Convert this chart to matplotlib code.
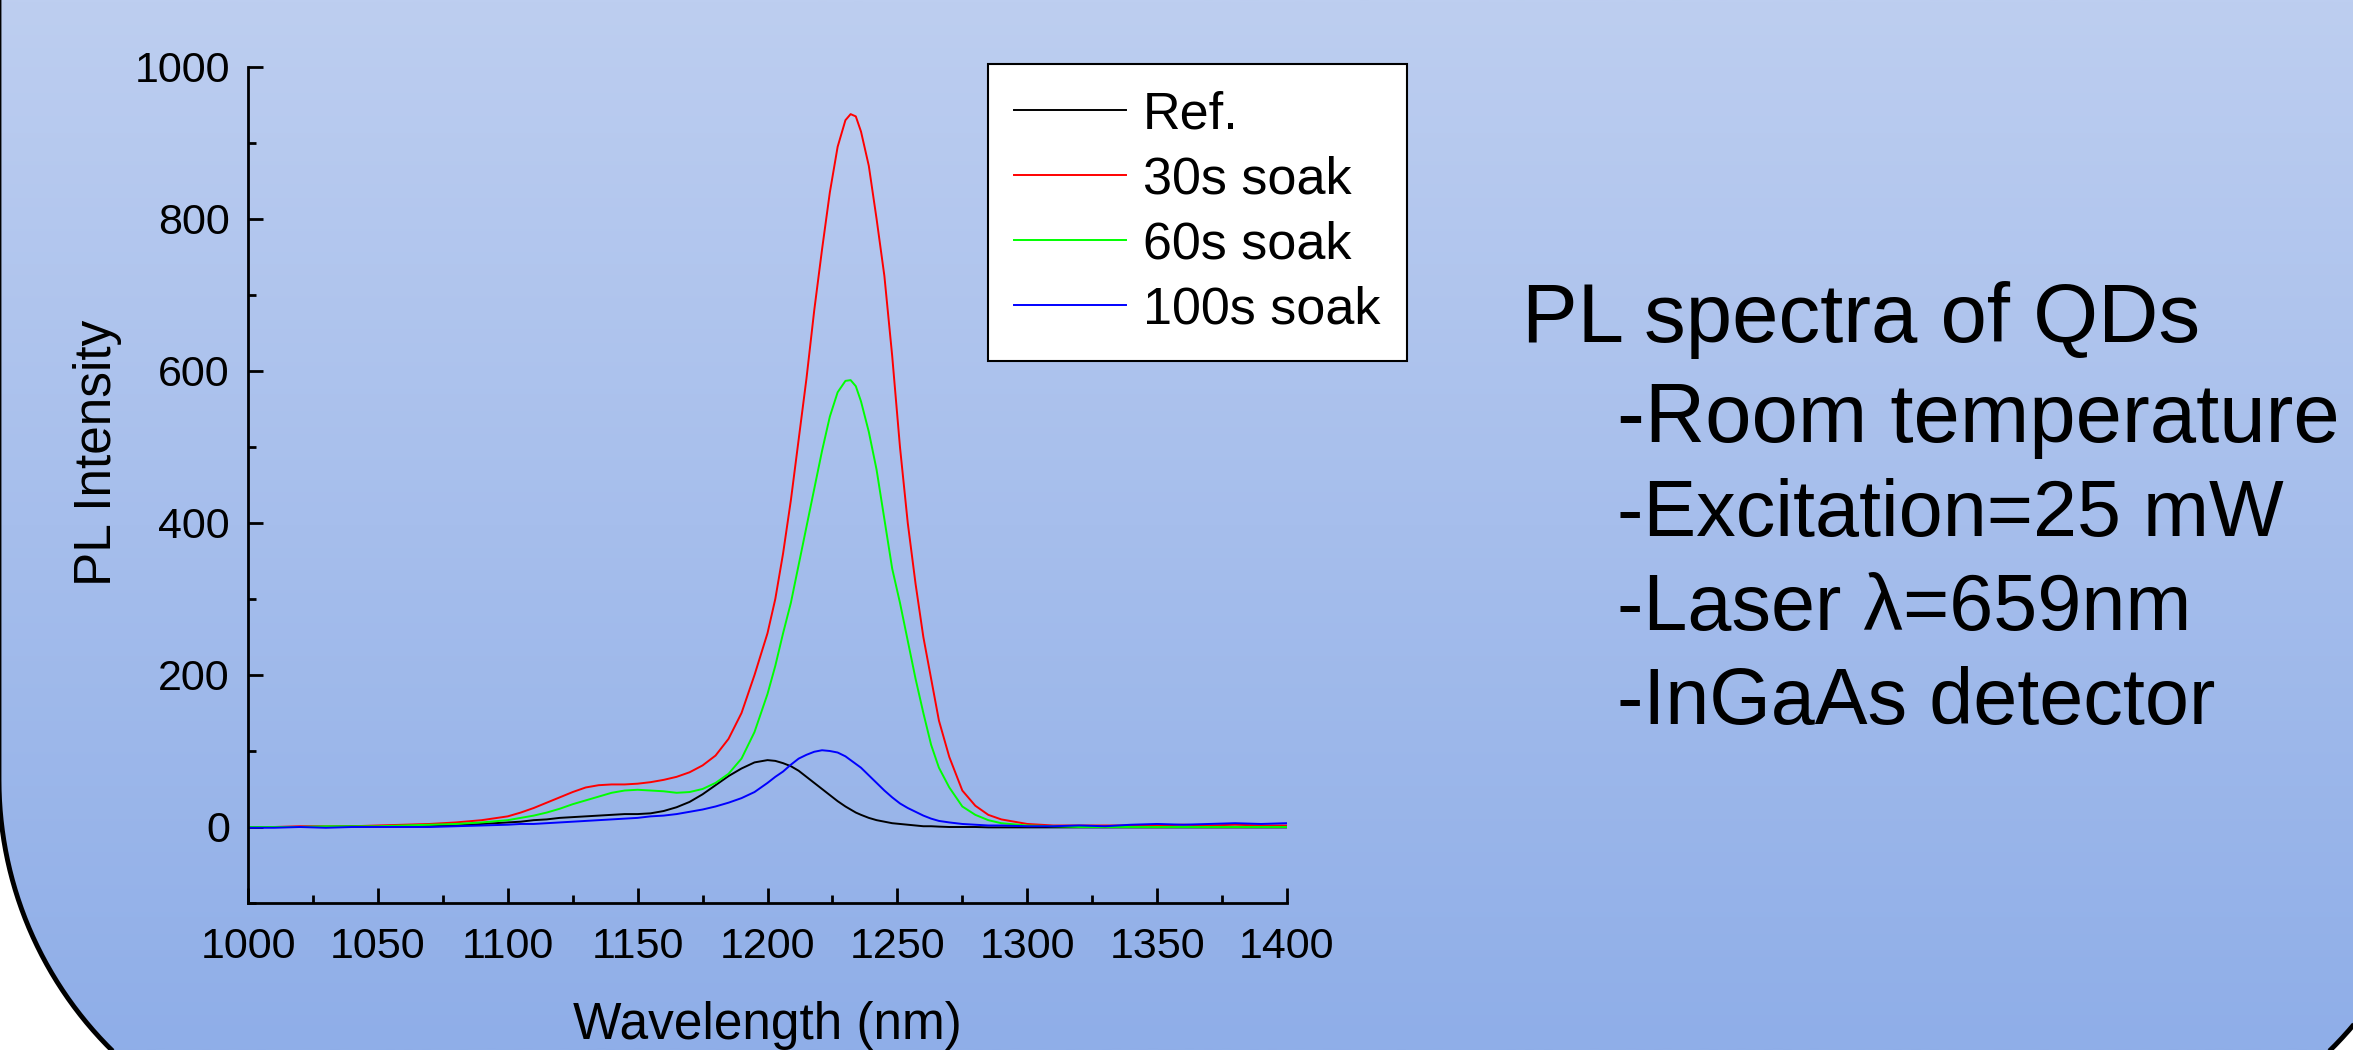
import numpy as np
import matplotlib
matplotlib.use("Agg")
import matplotlib.pyplot as plt
from matplotlib.patches import Polygon
from matplotlib.ticker import MultipleLocator

plt.rcParams['font.family'] = ['Liberation Sans', 'DejaVu Sans']

# ---------------- data ----------------
wavelength = [1000, 1010, 1020, 1030, 1040, 1050, 1060, 1070, 1080, 1090,
              1100, 1105, 1110, 1115, 1120, 1125, 1130, 1135, 1140, 1145,
              1150, 1155, 1160, 1165, 1170, 1175, 1180, 1185, 1190, 1195,
              1200, 1203, 1206, 1209, 1212, 1215, 1218, 1221, 1224, 1227,
              1230, 1232, 1234, 1236, 1239, 1242, 1245, 1248, 1251, 1254,
              1257, 1260, 1263, 1266, 1270, 1275, 1280, 1285, 1290, 1300,
              1310, 1320, 1330, 1340, 1350, 1360, 1370, 1380, 1390, 1400]

ref = [0, 0, 0, 0, 1, 1, 1, 1, 2, 4,
       6, 7, 9, 10, 12, 13, 14, 15, 16, 17,
       17, 18, 21, 26, 33, 43, 55, 67, 77, 85,
       88, 87, 84, 80, 74, 66, 58, 50, 42, 34,
       27, 23, 19, 16, 12, 9, 7, 5, 4, 3,
       2, 1, 1, 0.5, 0, 0, 0, -0.5, -0.5, -0.5,
       -0.5, -0.5, -0.5, -0.5, -0.5, -0.5, -0.5, -0.5, -0.5, -0.5]

soak30 = [0, 0, 1, 1, 1, 2, 3, 4, 6, 9,
          14, 19, 25, 32, 39, 46, 52, 55, 56, 56,
          57, 59, 62, 66, 72, 81, 94, 116, 150, 200,
          255, 300, 360, 430, 510, 590, 680, 760, 835, 895,
          930, 938, 935, 915, 870, 800, 725, 620, 500, 400,
          320, 250, 195, 140, 92, 48, 28, 16, 10, 4,
          2, 2, 2, 2, 2, 3, 2, 3, 2, 2]

soak60 = [0, 0, 0, 1, 1, 1, 2, 3, 4, 6,
          9, 12, 15, 19, 24, 30, 35, 40, 45, 48,
          49, 48, 47, 45, 46, 50, 58, 70, 90, 125,
          175, 212, 255, 295, 345, 395, 445, 495, 540, 572,
          587, 588, 580, 560, 520, 470, 405, 340, 295, 245,
          195, 150, 108, 78, 52, 27, 16, 9, 5, 2,
          1, 0, 0, 0, 0, 0, 0, 0, 0, 0]

soak100 = [-1, -1, 0, -1, 0, 0, 0, 0, 1, 2,
           3, 4, 4, 5, 6, 7, 8, 9, 10, 11,
           12, 14, 15, 17, 20, 23, 27, 32, 38, 46,
           58, 66, 73, 82, 90, 95, 99, 101, 100, 98,
           93, 88, 83, 78, 68, 58, 48, 39, 31, 25,
           20, 15, 11, 8, 6, 4, 3, 2, 2, 1,
           1, 2, 1, 3, 4, 3, 4, 5, 4, 5]

series_labels = ["Ref.", "30s soak", "60s soak", "100s soak"]
series_colors = ["black", "#FF0000", "#00FF00", "#0000FF"]

x_ticks = [1000, 1050, 1100, 1150, 1200, 1250, 1300, 1350, 1400]
y_ticks = [0, 200, 400, 600, 800, 1000]

title_line = "PL spectra of QDs"
info_lines = ["-Room temperature", "-Excitation=25 mW", "-Laser \u03bb=659nm", "-InGaAs detector"]

# ---------------- figure ----------------
W, H = 2353, 1050
fig = plt.figure(figsize=(W / 100, H / 100), dpi=100, facecolor="white")

# background: gradient-filled rounded panel (pixel coordinates, y downward)
bg = fig.add_axes([0, 0, 1, 1])
bg.axis("off")
grad = np.linspace(0, 1, 256)[:, None, None]
top = np.array([189, 206, 240]) / 255.0
bot = np.array([143, 174, 232]) / 255.0
img = top + (bot - top) * grad
im = bg.imshow(img, extent=[0, W, H, 0], aspect="auto", interpolation="bilinear", zorder=0)

r = 380.0
x_left, x_right = -1.0, 2443.0
y_top, y_bot = -500.0, 1160.0
th = np.linspace(0, np.pi / 2, 60)
left_arc = np.column_stack([x_left + r - r * np.cos(th), y_bot - r + r * np.sin(th)])
right_arc = np.column_stack([x_right - r + r * np.sin(th), y_bot - r + r * np.cos(th)])
verts = np.vstack([[[x_left, y_top]], left_arc, right_arc, [[x_right, y_top]]])
panel = Polygon(verts, closed=True, fc="none", ec="black", lw=3.5, zorder=1)
bg.add_patch(panel)
im.set_clip_path(panel)
bg.set_xlim(0, W)
bg.set_ylim(H, 0)

# text block
bg.text(1522, 342, title_line, fontsize=60, va="baseline", ha="left", color="black", zorder=3)
info_sizes = [60, 57, 57, 57]
for i, (line, fs) in enumerate(zip(info_lines, info_sizes)):
    bg.text(1617, 442 + 94 * i, line, fontsize=fs, va="baseline", ha="left", color="black", zorder=3)

# main plot axes
ax = fig.add_axes([248 / W, (H - 903) / H, (1287 - 248) / W, (903 - 67) / H])
ax.set_facecolor("none")

series = [ref, soak30, soak60, soak100]
for vals, lab, col in zip(series, series_labels, series_colors):
    ax.plot(wavelength, vals, color=col, lw=1.4, label=lab)

ax.set_xlim(1000, 1400)
ax.set_ylim(-100, 1000)
ax.set_xticks(x_ticks)
ax.set_yticks(y_ticks)
ax.xaxis.set_minor_locator(MultipleLocator(25))
ax.yaxis.set_minor_locator(MultipleLocator(100))

for s in ["top", "right"]:
    ax.spines[s].set_visible(False)
for s in ["left", "bottom"]:
    ax.spines[s].set_linewidth(2)
    ax.spines[s].set_color("black")

ax.tick_params(which="major", direction="in", length=11, width=2, labelsize=31, colors="black")
ax.tick_params(which="minor", direction="in", length=6, width=2)
ax.tick_params(axis="x", which="major", pad=17)
ax.tick_params(axis="y", which="major", pad=13)

ax.set_xlabel("Wavelength (nm)", fontsize=37, va="center")
ax.xaxis.set_label_coords(0.5, -0.147)
ax.set_ylabel("PL Intensity", fontsize=37, va="center")
ax.yaxis.set_label_coords(-0.145, 0.539)

leg = ax.legend(loc="upper left", bbox_to_anchor=(0.712, 1.0036), fontsize=37.5,
                frameon=True, fancybox=False, shadow=False, borderaxespad=0,
                borderpad=0.5, handlelength=2.15, handletextpad=0.33,
                labelspacing=0.31)
leg.get_frame().set_edgecolor("black")
leg.get_frame().set_facecolor("white")
leg.get_frame().set_alpha(1)
leg.get_frame().set_linewidth(1.5)

fig.savefig("out.png", dpi=100, facecolor="white")
